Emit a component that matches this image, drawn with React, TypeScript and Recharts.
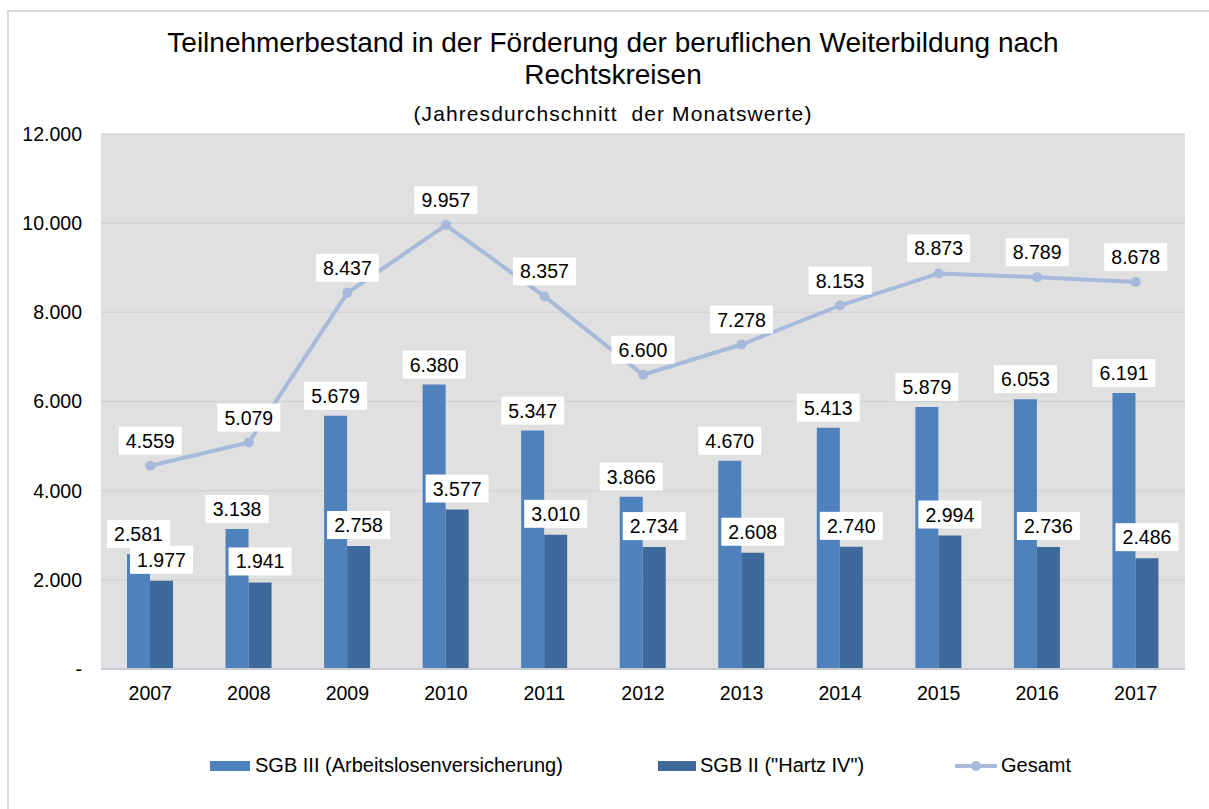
import { ComposedChart, Bar, Line, XAxis, YAxis, CartesianGrid, LabelList } from 'recharts'

const years = ['2007', '2008', '2009', '2010', '2011', '2012', '2013', '2014', '2015', '2016', '2017']
const sgb3 = [2581, 3138, 5679, 6380, 5347, 3866, 4670, 5413, 5879, 6053, 6191]
const sgb2 = [1977, 1941, 2758, 3577, 3010, 2734, 2608, 2740, 2994, 2736, 2486]
const gesamt = [4559, 5079, 8437, 9957, 8357, 6600, 7278, 8153, 8873, 8789, 8678]
const yTicks = [0, 2000, 4000, 6000, 8000, 10000, 12000]

const data = years.map((year, i) => ({ year, sgb3: sgb3[i], sgb2: sgb2[i], gesamt: gesamt[i] }))

const FONT = '"Liberation Sans", Arial, sans-serif'
const C_SGB3 = '#4f81bd'
const C_SGB2 = '#3e6a9b'
const C_TOTAL = '#a7badc'

const fmt = (v: number) => (v === 0 ? '-' : v.toLocaleString('de-DE'))

// white box label above a mark
function BoxLabel(props: any) {
  const { x, y, width, value, gap } = props
  const cx = x + (width || 0) / 2
  const w = 63
  const h = 28
  const bottom = y - gap
  return (
    <g>
      <rect x={cx - w / 2} y={bottom - h} width={w} height={h} fill="#ffffff" />
      <text x={cx} y={bottom - h / 2} textAnchor="middle" dominantBaseline="central" fontSize={19.5} fill="#000" fontFamily={FONT}>
        {fmt(value)}
      </text>
    </g>
  )
}

export default function App() {
  return (
    <div style={{ position: 'absolute', left: 0, top: 0, width: 1209, height: 809, background: '#fff', fontFamily: FONT }}>
      <div style={{ position: 'absolute', left: 7, top: 10, width: 1202, height: 799, borderTop: '2px solid #d9d9d9', borderLeft: '2px solid #d9d9d9', boxSizing: 'border-box' }} />
      <div style={{ position: 'absolute', left: 0, top: 27, width: 1226, textAlign: 'center', fontSize: 28, lineHeight: '32px', color: '#000' }}>
        Teilnehmerbestand in der Förderung der beruflichen Weiterbildung nach
        <br />
        Rechtskreisen
      </div>
      <div style={{ position: 'absolute', left: 0, top: 102, width: 1226, textAlign: 'center', fontSize: 21, letterSpacing: 1.1, color: '#000', whiteSpace: 'pre' }}>
        (Jahresdurchschnitt  der Monatswerte)
      </div>
      <div style={{ position: 'absolute', left: 0, top: 0 }}>
        <ComposedChart width={1209} height={809} data={data} margin={{ top: 134, right: 24, left: 8, bottom: 110 }} barGap={0}>
          <CartesianGrid vertical={false} stroke="#d3d3d3" strokeWidth={1.5} fill="#e0e0e0" />
          <XAxis
            dataKey="year"
            height={30}
            tickLine={false}
            tickSize={0}
            tickMargin={17}
            axisLine={{ stroke: '#c6ccd6', strokeWidth: 2 }}
            tick={{ fill: '#000', fontSize: 19.5, fontFamily: FONT }}
          />
          <YAxis
            width={93}
            domain={[0, 12000]}
            ticks={yTicks}
            interval={0}
            axisLine={false}
            tickLine={false}
            tickSize={0}
            tickMargin={19}
            tickFormatter={fmt}
            tick={{ fill: '#000', fontSize: 19.5, fontFamily: FONT }}
          />
          <Bar dataKey="sgb3" fill={C_SGB3} barSize={23} isAnimationActive={false}>
            <LabelList dataKey="sgb3" content={(p: any) => <BoxLabel {...p} gap={6} />} />
          </Bar>
          <Bar dataKey="sgb2" fill={C_SGB2} barSize={23} isAnimationActive={false}>
            <LabelList dataKey="sgb2" content={(p: any) => <BoxLabel {...p} gap={7} />} />
          </Bar>
          <Line
            dataKey="gesamt"
            type="linear"
            stroke={C_TOTAL}
            strokeWidth={4}
            dot={{ r: 5, fill: C_TOTAL, stroke: C_TOTAL, strokeWidth: 0 }}
            isAnimationActive={false}
          >
            <LabelList dataKey="gesamt" content={(p: any) => <BoxLabel {...p} gap={11} />} />
          </Line>
        </ComposedChart>
      </div>
      {/* legend */}
      <div style={{ position: 'absolute', top: 754, left: 0, width: 1209, height: 24, fontSize: 20, color: '#000' }}>
        <div style={{ position: 'absolute', left: 210, top: 7, width: 40, height: 10, background: C_SGB3 }} />
        <div style={{ position: 'absolute', left: 255, top: 0, whiteSpace: 'nowrap' }}>SGB III (Arbeitslosenversicherung)</div>
        <div style={{ position: 'absolute', left: 658, top: 7, width: 38, height: 10, background: C_SGB2 }} />
        <div style={{ position: 'absolute', left: 700, top: 0, whiteSpace: 'nowrap' }}>SGB II ("Hartz IV")</div>
        <div style={{ position: 'absolute', left: 955, top: 10, width: 42, height: 4, background: C_TOTAL }} />
        <div style={{ position: 'absolute', left: 971, top: 7, width: 10, height: 10, borderRadius: 5, background: C_TOTAL }} />
        <div style={{ position: 'absolute', left: 1001, top: 0, whiteSpace: 'nowrap' }}>Gesamt</div>
      </div>
    </div>
  )
}
